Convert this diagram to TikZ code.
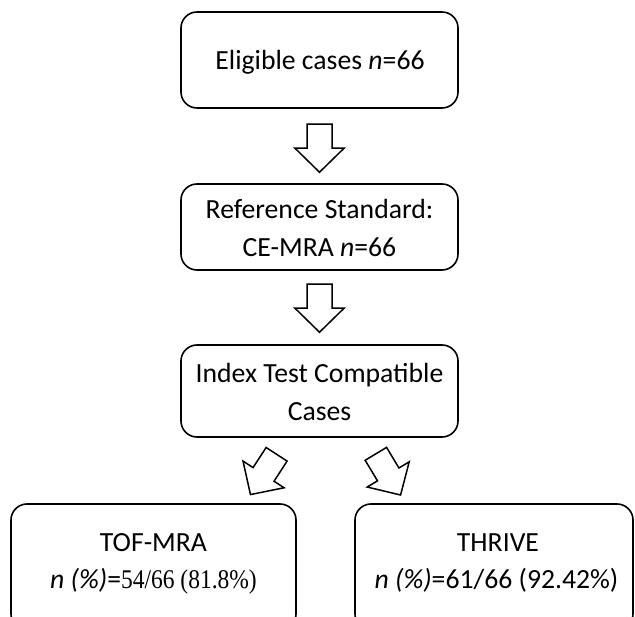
\documentclass[tikz,border=0pt]{standalone}
\usepackage{fontspec}
\setmainfont{Carlito}
\newfontfamily\tnr[FakeStretch=0.87]{Liberation Serif}
\usetikzlibrary{calc}
\begin{document}
\begin{tikzpicture}[x=1pt,y=-1pt,
  box/.style={draw, line width=1.6pt, rounded corners=16pt, inner sep=0pt},
  txt/.style={inner sep=0pt, anchor=base, font=\fontsize{27.7}{38}\selectfont},
  blockarrow/.pic={\draw[line width=1.5pt, line join=miter]
     (-12.5,-24)--(12.5,-24)--(12.5,0)--(24.5,0)--(0,24)--(-24.5,0)--(-12.5,0)--cycle;}
]
\useasboundingbox (0,0) rectangle (635,617);
\clip (0,0) rectangle (635,617);
% boxes
\node[box, minimum width=277pt, minimum height=96pt] (b1) at (319.5,60) {};
\node[box, minimum width=277pt, minimum height=86pt] (b2) at (319.5,227) {};
\node[box, minimum width=277pt, minimum height=92pt] (b3) at (319.5,391) {};
\node[box, minimum width=285pt, minimum height=126pt] (b4) at (153.5,567) {};
\node[box, minimum width=278pt, minimum height=126pt] (b5) at (494,567) {};
% texts
\node[txt] (t1) at ($(b1.center)+(0.5,10)$) {Eligible cases \textit{n}=66};
\node[txt] (t2a) at ($(b2.center)+(0,-8)$) {Reference Standard:};
\node[txt] (t2b) at ($(b2.center)+(0,30)$) {CE-MRA \textit{n}=66};
\node[txt] (t3a) at ($(b3.center)+(0,-8)$) {Index Test Compatible};
\node[txt] (t3b) at ($(b3.center)+(0,30)$) {Cases};
\node[txt] (t4a) at ($(b4.center)+(0,-16)$) {TOF-MRA};
\node[txt] (t4b) at ($(b4.center)+(0,21)$) {\textit{n (\%)}={\tnr\fontsize{27}{38}\selectfont 54/66 (81.8\%)}};
\node[txt] (t5a) at ($(b5.center)+(4,-16)$) {THRIVE};
\node[txt] (t5b) at ($(b5.center)+(2.5,21)$) {\textit{n (\%)}=61/66 (92.42\%)};
% block arrows
\pic at ($(b1.south)!0.53!(b2.north)$) {blockarrow};
\pic at ($(b2.south)!0.51!(b3.north)$) {blockarrow};
\pic[rotate=-33] at ($(b3.south)!0.56!(b4.north)+(37,0)$) {blockarrow};
\pic[rotate=31] at ($(b3.south)!0.56!(b5.north)+(-29,0)$) {blockarrow};
\end{tikzpicture}
\end{document}
